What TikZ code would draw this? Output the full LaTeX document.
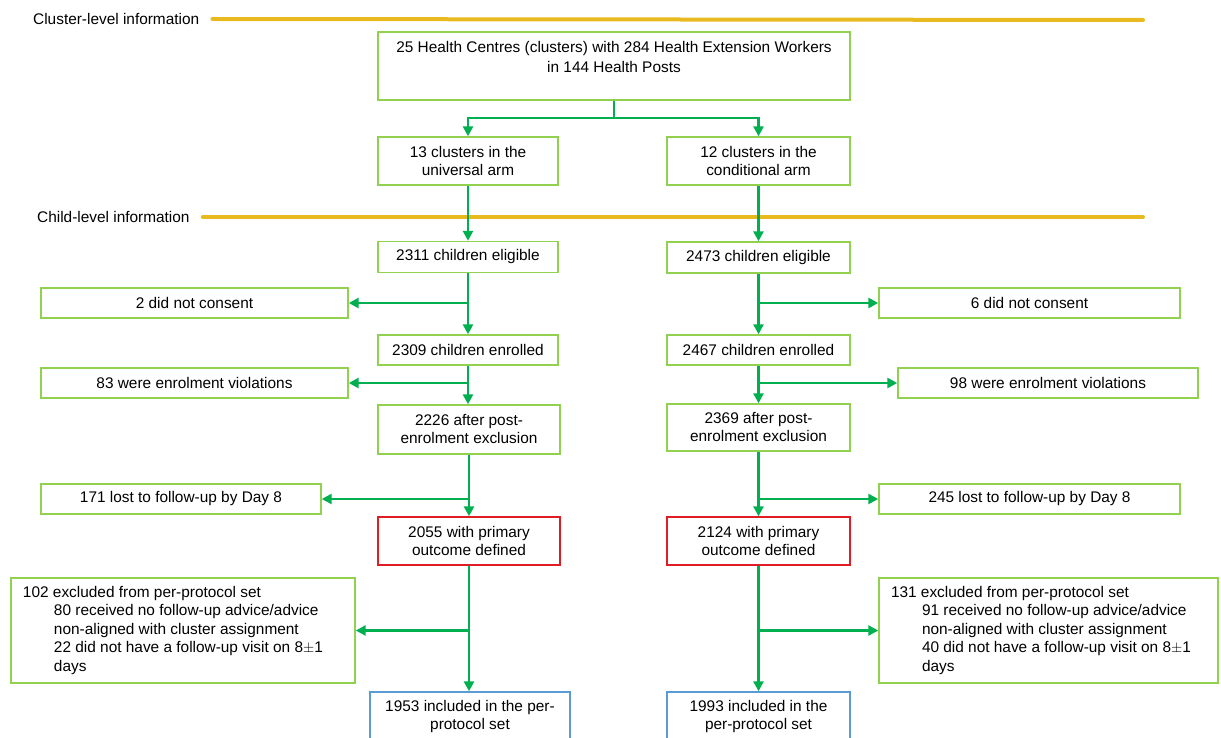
\documentclass[tikz,border=0pt]{standalone}
\usepackage{fontspec}
\setmainfont{Liberation Sans}
\usetikzlibrary{arrows.meta}
\definecolor{boxgreen}{RGB}{146,208,80}
\definecolor{arrgreen}{RGB}{0,176,80}
\definecolor{bandyellow}{RGB}{232,186,32}
\definecolor{boxred}{RGB}{222,30,36}
\definecolor{boxblue}{RGB}{91,155,213}
\begin{document}
\begin{tikzpicture}[x=1pt,y=-1pt,
  txt/.style={font=\fontsize{15.4}{18}\selectfont},
  box/.style={txt,draw=boxgreen,line width=1.4pt,minimum height=30pt,inner sep=0pt,align=center},
  tall/.style={box,minimum height=48pt},
  redbox/.style={tall,draw=boxred},
  bluebox/.style={box,draw=boxblue,minimum height=50pt},
  exbox/.style={box,font=\fontsize{15.4}{18.5}\selectfont,align=flush left,inner xsep=12pt,minimum height=105pt},
  arr/.style={draw=arrgreen,line width=2.6pt,-{Triangle[length=10pt,width=10pt]}},
  ln/.style={draw=arrgreen,line width=2.6pt},
  band/.style={draw=bandyellow,line width=4pt,line cap=round},
  lbl/.style={txt,anchor=west,inner sep=0pt}]
\clip (0,0) rectangle (1221,738);
\fill[white] (0,0) rectangle (1221,738);

% section labels and bands
\node[lbl] (cll) at (33,19) {Cluster-level information};
\draw[band] ([xshift=13pt]cll.east) -- (1143,20);
\node[lbl] (chl) at (37,217) {Child-level information};
\draw[band] ([xshift=13pt]chl.east) -- (1143,217);

% top box
\node[box,minimum width=472pt,minimum height=68pt] (top) at (614,66) {};
\node[txt,align=center,anchor=north,inner sep=0pt,font=\fontsize{15.4}{20}\selectfont] (toptext) at ([yshift=-10pt]top.north)
  {25 Health Centres (clusters) with 284 Health Extension Workers\\in 144 Health Posts};

% left arm
\node[tall,minimum width=180pt] (u1) at (468,161) {13 clusters in the\\universal arm};
\node[box,minimum width=180pt,minimum height=31pt] (u2) at (468,257) {2311 children eligible};
\node[box,minimum width=180pt] (u3) at (468,350) {2309 children enrolled};
\node[tall,minimum width=182pt,minimum height=49pt] (u4) at (469,429.5) {2226 after post-\\enrolment exclusion};
\node[redbox,minimum width=182pt] (u5) at (469,541) {2055 with primary\\outcome defined};
\node[bluebox,minimum width=200pt] (u6) at (470,717) {1953 included in the per-\\protocol set};

\node[box,minimum width=307pt] (lc) at (194.5,303) {2 did not consent};
\node[box,minimum width=307pt] (lv) at (194.5,383) {83 were enrolment violations};
\node[box,minimum width=280pt] (ll) at (181,499) {171 lost to follow-up by Day 8};
\node[exbox,minimum width=344pt,text width=320pt] (lx) at (183,630.5)
  {102 excluded from per-protocol set\\
   \hspace*{31pt}80 received no follow-up advice/advice\\
   \hspace*{31pt}non-aligned with cluster assignment\\
   \hspace*{31pt}22 did not have a follow-up visit on 8$\pm$1\\
   \hspace*{31pt}days};

% right arm
\node[tall,minimum width=183pt] (c1) at (758.5,161) {12 clusters in the\\conditional arm};
\node[box,minimum width=183pt,minimum height=31pt] (c2) at (758.5,257.5) {2473 children eligible};
\node[box,minimum width=183pt] (c3) at (758.5,350) {2467 children enrolled};
\node[tall,minimum width=183pt,minimum height=47pt] (c4) at (758.5,427.5) {2369 after post-\\enrolment exclusion};
\node[redbox,minimum width=183pt] (c5) at (758.5,541) {2124 with primary\\outcome defined};
\node[bluebox,minimum width=183pt] (c6) at (758.5,717) {1993 included in the\\per-protocol set};

\node[box,minimum width=301pt] (rc) at (1029.5,303) {6 did not consent};
\node[box,minimum width=300pt] (rv) at (1048,383) {98 were enrolment violations};
\node[box,minimum width=301pt] (rl) at (1029.5,499) {245 lost to follow-up by Day 8};
\node[exbox,minimum width=339pt,text width=315pt] (rx) at (1048.5,630.5)
  {131 excluded from per-protocol set\\
   \hspace*{31pt}91 received no follow-up advice/advice\\
   \hspace*{31pt}non-aligned with cluster assignment\\
   \hspace*{31pt}40 did not have a follow-up visit on 8$\pm$1\\
   \hspace*{31pt}days};

% connectors: split
\coordinate (split) at (614,118);
\draw[ln] (top.south) -- (split);
\draw[arr] (split) -| (u1.north);
\draw[arr] (split) -| (c1.north);

% left connectors
\draw[arr] (u1.south) -- (u2.north);
\draw[arr] (u2.south) -- (u3.north);
\draw[arr] (u2.south |- lc.east) -- (lc.east);
\draw[arr] (u3.south) -- (u3.south |- u4.north);
\draw[arr] (u3.south |- lv.east) -- (lv.east);
\draw[arr] (u4.south) -- (u5.north);
\draw[arr] (u4.south |- ll.east) -- (ll.east);
\draw[arr] (u5.south) -- (u5.south |- u6.north);
\draw[arr] (u5.south |- lx.east) -- (lx.east);

% right connectors
\draw[arr] (c1.south) -- (c2.north);
\draw[arr] (c2.south) -- (c3.north);
\draw[arr] (c2.south |- rc.west) -- (rc.west);
\draw[arr] (c3.south) -- (c4.north);
\draw[arr] (c3.south |- rv.west) -- (rv.west);
\draw[arr] (c4.south) -- (c5.north);
\draw[arr] (c4.south |- rl.west) -- (rl.west);
\draw[arr] (c5.south) -- (c6.north);
\draw[arr] (c5.south |- rx.west) -- (rx.west);
\end{tikzpicture}
\end{document}
